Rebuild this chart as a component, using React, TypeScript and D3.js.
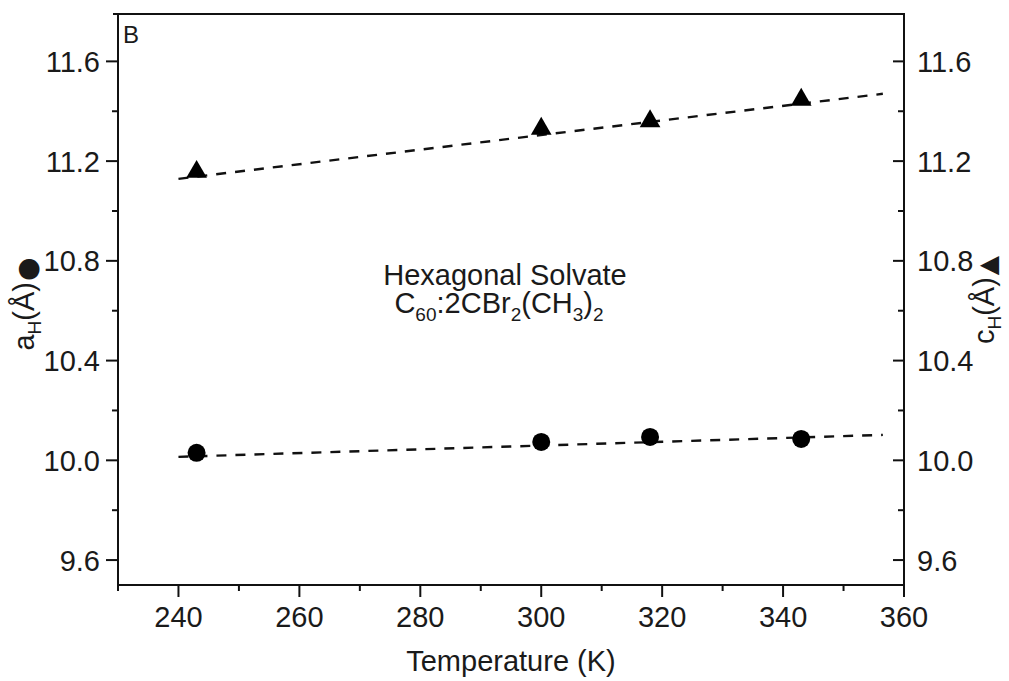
import React from "react";
import * as d3 from "d3";

const temperatures = [243, 300, 318, 343];
const aH = [10.03, 10.074, 10.094, 10.086];
const cH = [11.157, 11.33, 11.36, 11.446];
const fitT = [240, 356.5];
const fitA = [10.014, 10.102];
const fitC = [11.129, 11.47];
const xMajor = [240, 260, 280, 300, 320, 340, 360];
const xMinor = [230, 250, 270, 290, 310, 330, 350];
const yMajor = [9.6, 10.0, 10.4, 10.8, 11.2, 11.6];
const yMinor = [9.8, 10.2, 10.6, 11.0, 11.4];

const W = 1009;
const H = 681;
const L = 118, R = 904, T = 14, B = 585;
const FONT = "'Liberation Sans', Arial, Helvetica, sans-serif";
const INK = "#111";

export default function App() {
  const x = d3.scaleLinear().domain([230, 360]).range([L, R]);
  const y = d3.scaleLinear().domain([9.5, 11.79]).range([B, T]);
  const line = d3.line<[number, number]>().x((d) => x(d[0])).y((d) => y(d[1]));
  const tri = d3.symbol().type(d3.symbolTriangle).size(185)();
  const fs = 29;
  const sub = 19;

  return (
    <svg width={W} height={H} style={{ position: "absolute", left: 0, top: 0, background: "#fff" }} fontFamily={FONT}>
      <rect x={0} y={0} width={W} height={H} fill="#fff" />
      {/* fit lines */}
      <path d={line([[fitT[0], fitA[0]], [fitT[1], fitA[1]]]) || ""} stroke={INK} strokeWidth={2.4} strokeDasharray="10,9" fill="none" />
      <path d={line([[fitT[0], fitC[0]], [fitT[1], fitC[1]]]) || ""} stroke={INK} strokeWidth={2.4} strokeDasharray="10,9" fill="none" />
      {/* markers */}
      {temperatures.map((t, i) => (
        <circle key={"a" + i} cx={x(t)} cy={y(aH[i])} r={9} fill="#000" />
      ))}
      {temperatures.map((t, i) => (
        <path key={"c" + i} d={tri || ""} transform={`translate(${x(t)},${y(cH[i])})`} fill="#000" />
      ))}
      {/* frame */}
      <line x1={L - 5} x2={R} y1={T} y2={T} stroke={INK} strokeWidth={2} />
      <line x1={L} x2={L} y1={T - 1} y2={B + 1} stroke={INK} strokeWidth={2} />
      <line x1={R} x2={R} y1={T - 1} y2={B + 1} stroke={INK} strokeWidth={2} />
      <line x1={L - 1} x2={R + 1} y1={B} y2={B} stroke={INK} strokeWidth={2} />
      {/* x ticks */}
      {xMajor.map((v) => (
        <g key={"xm" + v}>
          <line x1={x(v)} x2={x(v)} y1={B} y2={B + 12} stroke={INK} strokeWidth={2} />
          <text x={x(v)} y={627} textAnchor="middle" fontSize={fs} fill="#1a1a1a">{v}</text>
        </g>
      ))}
      {xMinor.map((v) => (
        <line key={"xn" + v} x1={x(v)} x2={x(v)} y1={B} y2={B + 6} stroke={INK} strokeWidth={2} />
      ))}
      {/* y ticks */}
      {yMajor.map((v) => (
        <g key={"ym" + v}>
          <line x1={L - 12} x2={L} y1={y(v)} y2={y(v)} stroke={INK} strokeWidth={2} />
          <line x1={R - 11} x2={R} y1={y(v)} y2={y(v)} stroke={INK} strokeWidth={2} />
          <text x={100} y={y(v)} dy="0.36em" textAnchor="end" fontSize={fs} fill="#1a1a1a">{v.toFixed(1)}</text>
          <text x={917} y={y(v)} dy="0.36em" textAnchor="start" fontSize={fs} fill="#1a1a1a">{v.toFixed(1)}</text>
        </g>
      ))}
      {yMinor.map((v) => (
        <g key={"yn" + v}>
          <line x1={L - 6} x2={L} y1={y(v)} y2={y(v)} stroke={INK} strokeWidth={2} />
          <line x1={R - 6} x2={R} y1={y(v)} y2={y(v)} stroke={INK} strokeWidth={2} />
        </g>
      ))}
      {/* panel letter */}
      <text x={123} y={43} fontSize={24} fill="#1a1a1a">B</text>
      {/* annotation */}
      <text x={505} y={285} textAnchor="middle" fontSize={fs} fill="#1a1a1a">Hexagonal Solvate</text>
      <text x={499} y={313} textAnchor="middle" fontSize={fs} fill="#1a1a1a">
        C<tspan fontSize={sub} dy={8}>60</tspan>
        <tspan dy={-8}>:2CBr</tspan>
        <tspan fontSize={sub} dy={8}>2</tspan>
        <tspan dy={-8}>(CH</tspan>
        <tspan fontSize={sub} dy={8}>3</tspan>
        <tspan dy={-8}>)</tspan>
        <tspan fontSize={sub} dy={8}>2</tspan>
      </text>
      {/* x title */}
      <text x={(L + R) / 2} y={671} textAnchor="middle" fontSize={fs} fill="#1a1a1a">Temperature (K)</text>
      {/* left y title */}
      <text transform={`translate(34,304) rotate(-90)`} textAnchor="middle" fontSize={fs} fill="#1a1a1a">
        a<tspan fontSize={sub} dy={7}>H</tspan>
        <tspan dy={-7}>(Å)</tspan>
        <tspan fontFamily="'DejaVu Sans', sans-serif" fontSize={27} dx={1} dy={2}>●</tspan>
      </text>
      {/* right y title */}
      <text transform={`translate(994,300) rotate(-90)`} textAnchor="middle" fontSize={fs} fill="#1a1a1a">
        c<tspan fontSize={sub} dy={7}>H</tspan>
        <tspan dy={-7}>(Å)</tspan>
        <tspan fontFamily="'DejaVu Sans', sans-serif" fontSize={25} dx={2} dy={2}>▲</tspan>
      </text>
    </svg>
  );
}
